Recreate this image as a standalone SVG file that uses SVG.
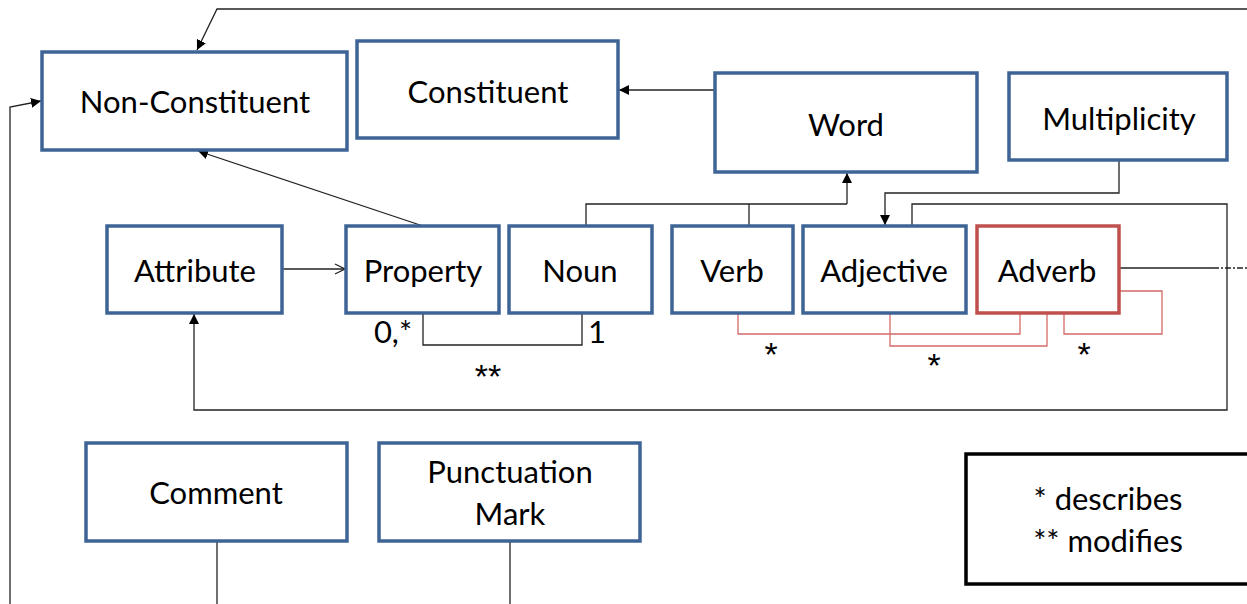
<svg xmlns="http://www.w3.org/2000/svg" width="1247" height="604" viewBox="0 0 1247 604">
<style>
.box{fill:#fff;stroke:#3e6496;stroke-width:3.5}
.red{fill:#fff;stroke:#c0504d;stroke-width:3.5}
.lg{fill:#fff;stroke:#000;stroke-width:3.5}
.t{font-family:Lato,"Liberation Sans",sans-serif;font-size:31px;fill:#000;text-anchor:middle}
.s{font-family:"Liberation Sans",sans-serif;font-size:34px;fill:#000;text-anchor:middle}
.c{fill:none;stroke:#222;stroke-width:1.3}
.r{fill:none;stroke:#d46b68;stroke-width:1.3}
</style>
<defs>
<marker id="ah" viewBox="0 0 10 10" refX="10" refY="5" markerWidth="10" markerHeight="10" markerUnits="userSpaceOnUse" orient="auto"><path d="M0,0 L10,5 L0,10 z" fill="#000"/></marker>
<marker id="oa" viewBox="0 0 12 12" refX="11" refY="6" markerWidth="12" markerHeight="12" markerUnits="userSpaceOnUse" orient="auto"><path d="M1,1 L11,6 L1,11" fill="none" stroke="#222" stroke-width="1.3"/></marker>
</defs>
<g id="connectors">
<polyline class="c" points="1247,9 217,9 197,50" marker-end="url(#ah)"/>
<polyline class="c" points="10,604 10,107 41,101" marker-end="url(#ah)"/>
<line class="c" x1="423" y1="226" x2="198" y2="151" marker-end="url(#ah)"/>
<line class="c" x1="715" y1="90" x2="619" y2="90" marker-end="url(#ah)"/>
<polyline class="c" points="586,226 586,204 847,204"/>
<line class="c" x1="749" y1="226" x2="749" y2="204"/>
<line class="c" x1="847" y1="204" x2="847" y2="173" marker-end="url(#ah)"/>
<polyline class="c" points="1119,160 1119,193 885,193 885,225" marker-end="url(#ah)"/>
<polyline class="c" points="912,226 912,204 1227,204 1227,410 194,410 194,314" marker-end="url(#ah)"/>
<line class="c" x1="283" y1="269" x2="345" y2="269" marker-end="url(#oa)"/>
<polyline class="c" points="423,313 423,345 582,345 582,313"/>
<line class="c" x1="1119" y1="268" x2="1213" y2="268"/>
<line class="c" x1="1213" y1="268" x2="1247" y2="268" stroke-dasharray="6,2,2,2"/>
<line class="c" x1="217" y1="542" x2="217" y2="604"/>
<line class="c" x1="510" y1="542" x2="510" y2="604"/>
<polyline class="r" points="738,313 738,334 1020,334 1020,313"/>
<polyline class="r" points="890,313 890,346 1047,346 1047,313"/>
<polyline class="r" points="1064,313 1064,334 1162,334 1162,291 1119,291"/>
<text class="t" x="393" y="343" font-size="28">0,*</text>
<text class="t" x="597" y="343" font-size="28">1</text>
<text class="s" x="488" y="388">**</text>
<text class="s" x="771" y="366">*</text>
<text class="s" x="934" y="377">*</text>
<text class="s" x="1084" y="366">*</text>
</g>
<g id="non-constituent"><rect class="box" x="42" y="52" width="305" height="98"/><text class="t" x="195" y="113">Non-Constituent</text></g>
<g id="constituent"><rect class="box" x="357" y="41" width="261" height="97"/><text class="t" x="488" y="103">Constituent</text></g>
<g id="word"><rect class="box" x="715" y="73" width="262" height="99"/><text class="t" x="846" y="136">Word</text></g>
<g id="multiplicity"><rect class="box" x="1009" y="73" width="218" height="87"/><text class="t" x="1119" y="130">Multiplicity</text></g>
<g id="attribute"><rect class="box" x="107" y="226" width="175" height="87"/><text class="t" x="195" y="282">Attribute</text></g>
<g id="property"><rect class="box" x="346" y="226" width="153" height="87"/><text class="t" x="423" y="282">Property</text></g>
<g id="noun"><rect class="box" x="509" y="226" width="143" height="87"/><text class="t" x="580" y="282">Noun</text></g>
<g id="verb"><rect class="box" x="672" y="226" width="121" height="87"/><text class="t" x="732" y="282">Verb</text></g>
<g id="adjective"><rect class="box" x="803" y="226" width="163" height="87"/><text class="t" x="884" y="282">Adjective</text></g>
<g id="adverb"><rect class="red" x="977" y="226" width="142" height="87"/><text class="t" x="1047" y="282">Adverb</text></g>
<g id="comment"><rect class="box" x="86" y="443" width="261" height="98"/><text class="t" x="216" y="504">Comment</text></g>
<g id="punctuation-mark"><rect class="box" x="379" y="443" width="261" height="98"/><text class="t" x="510" y="483">Punctuation</text><text class="t" x="510" y="525">Mark</text></g>
<g id="legend"><rect class="lg" x="966" y="454" width="290" height="130"/><text class="t" x="1108" y="510">* describes</text><text class="t" x="1108" y="552">** modifies</text></g>
</svg>
